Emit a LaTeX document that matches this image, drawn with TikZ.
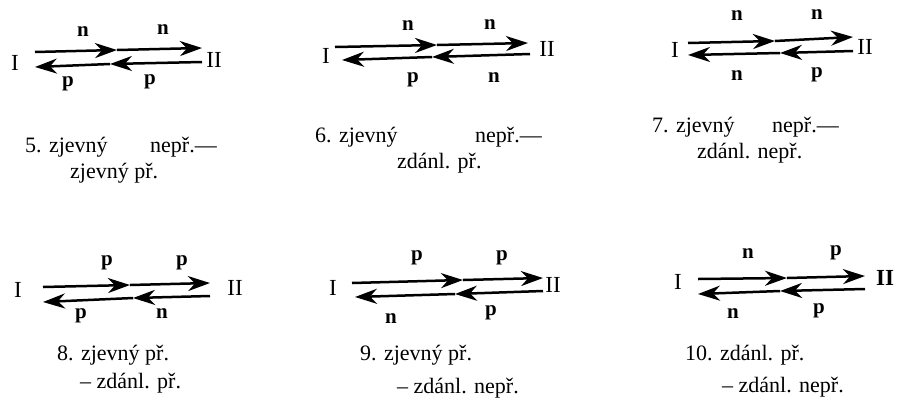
\documentclass[tikz,border=0pt]{standalone}
\usepackage{fontspec}
\setmainfont{Liberation Serif}
\usetikzlibrary{arrows.meta}
\begin{document}
\begin{tikzpicture}[x=1pt,y=-1pt,
  arr/.style={line width=2.5pt,-{Stealth[length=22pt,width=15pt,inset=7pt]}},
  lbl/.style={anchor=base,inner sep=0pt,font=\fontsize{21}{24}\selectfont\bfseries},
  rom/.style={anchor=center,inner sep=0pt,font=\fontsize{23}{24}\selectfont},
  captxt/.style={anchor=base west,inner sep=0pt,font=\fontsize{22}{24}\selectfont}]
\useasboundingbox (0,0) rectangle (899,413);
% ---------- panel 5
\node[rom] (I5) at (15,63) {I};
\node[rom] (II5) at (214,60) {II};
\coordinate (t5s) at (35,52); \coordinate (t5m) at (117,50); \coordinate (t5e) at (202,48);
\coordinate (b5s) at (202,62); \coordinate (b5m) at (110,64); \coordinate (b5e) at (35,67);
\draw[arr] (t5s) -- (t5m); \draw[arr] (t5m) -- (t5e);
\draw[arr] (b5s) -- (b5m); \draw[arr] (b5m) -- (b5e);
\node[lbl] (l5a) at (83,36) {n};
\node[lbl] (l5b) at (163,34) {n};
\node[lbl] (l5c) at (68,86) {p};
\node[lbl] (l5d) at (150,84) {p};
\node[captxt] (c5a) at (25,152) {5. zjevný};
\node[captxt] (c5b) at (150,152) {nepř.—};
\node[captxt] (c5c) at (70,178) {zjevný př.};
% ---------- panel 6
\node[rom] (I6) at (326,56) {I};
\node[rom] (II6) at (547,49) {II};
\coordinate (t6s) at (335,47); \coordinate (t6m) at (437,45); \coordinate (t6e) at (528,43);
\coordinate (b6s) at (530,54); \coordinate (b6m) at (432,57); \coordinate (b6e) at (342,60);
\draw[arr] (t6s) -- (t6m); \draw[arr] (t6m) -- (t6e);
\draw[arr] (b6s) -- (b6m); \draw[arr] (b6m) -- (b6e);
\node[lbl] (l6a) at (408,30) {n};
\node[lbl] (l6b) at (490,29) {n};
\node[lbl] (l6c) at (413,82) {p};
\node[lbl] (l6d) at (494,82) {n};
\node[captxt] (c6a) at (315,142) {6. zjevný};
\node[captxt] (c6b) at (475,142) {nepř.—};
\node[captxt] (c6c) at (397,168) {zdánl. př.};
% ---------- panel 7
\node[rom] (I7) at (675,50) {I};
\node[rom] (II7) at (865,47) {II};
\coordinate (t7s) at (688,43); \coordinate (t7m) at (775,41); \coordinate (t7e) at (853,37);
\coordinate (b7s) at (853,51); \coordinate (b7m) at (780,53); \coordinate (b7e) at (688,55);
\draw[arr] (t7s) -- (t7m); \draw[arr] (t7m) -- (t7e);
\draw[arr] (b7s) -- (b7m); \draw[arr] (b7m) -- (b7e);
\node[lbl] (l7a) at (737,20) {n};
\node[lbl] (l7b) at (817,19) {n};
\node[lbl] (l7c) at (737,80) {n};
\node[lbl] (l7d) at (817,77) {p};
\node[captxt] (c7a) at (652,132) {7. zjevný};
\node[captxt] (c7b) at (772,132) {nepř.—};
\node[captxt] (c7c) at (697,158) {zdánl. nepř.};
% ---------- panel 8
\node[rom] (I8) at (18,290) {I};
\node[rom] (II8) at (235,288) {II};
\coordinate (t8s) at (43,287); \coordinate (t8m) at (130,285); \coordinate (t8e) at (210,283);
\coordinate (b8s) at (210,296); \coordinate (b8m) at (133,298); \coordinate (b8e) at (43,302);
\draw[arr] (t8s) -- (t8m); \draw[arr] (t8m) -- (t8e);
\draw[arr] (b8s) -- (b8m); \draw[arr] (b8m) -- (b8e);
\node[lbl] (l8a) at (107,265) {p};
\node[lbl] (l8b) at (182,265) {p};
\node[lbl] (l8c) at (81,318) {p};
\node[lbl] (l8d) at (162,318) {n};
\node[captxt] (c8a) at (57,360) {8. zjevný př.};
\node[captxt] (c8b) at (80,388) {– zdánl. př.};
% ---------- panel 9
\node[rom] (I9) at (333,288) {I};
\node[rom] (II9) at (553,285) {II};
\coordinate (t9s) at (352,283); \coordinate (t9m) at (463,280); \coordinate (t9e) at (543,278);
\coordinate (b9s) at (543,291); \coordinate (b9m) at (455,294); \coordinate (b9e) at (355,297);
\draw[arr] (t9s) -- (t9m); \draw[arr] (t9m) -- (t9e);
\draw[arr] (b9s) -- (b9m); \draw[arr] (b9m) -- (b9e);
\node[lbl] (l9a) at (417,260) {p};
\node[lbl] (l9b) at (502,260) {p};
\node[lbl] (l9c) at (391,323) {n};
\node[lbl] (l9d) at (491,315) {p};
\node[captxt] (c9a) at (360,360) {9. zjevný př.};
\node[captxt] (c9b) at (397,393) {– zdánl. nepř.};
% ---------- panel 10
\node[rom] (I10) at (678,282) {I};
\node[rom,font=\fontsize{23}{24}\selectfont\bfseries] (II10) at (885,278) {II};
\coordinate (t10s) at (698,279); \coordinate (t10m) at (787,278); \coordinate (t10e) at (865,276);
\coordinate (b10s) at (865,289); \coordinate (b10m) at (780,291); \coordinate (b10e) at (698,294);
\draw[arr] (t10s) -- (t10m); \draw[arr] (t10m) -- (t10e);
\draw[arr] (b10s) -- (b10m); \draw[arr] (b10m) -- (b10e);
\node[lbl] (l10a) at (748,258) {n};
\node[lbl] (l10b) at (836,255) {p};
\node[lbl] (l10c) at (733,318) {n};
\node[lbl] (l10d) at (819,313) {p};
\node[captxt] (c10a) at (685,360) {10. zdánl. př.};
\node[captxt] (c10b) at (722,392) {– zdánl. nepř.};
\end{tikzpicture}
\end{document}
